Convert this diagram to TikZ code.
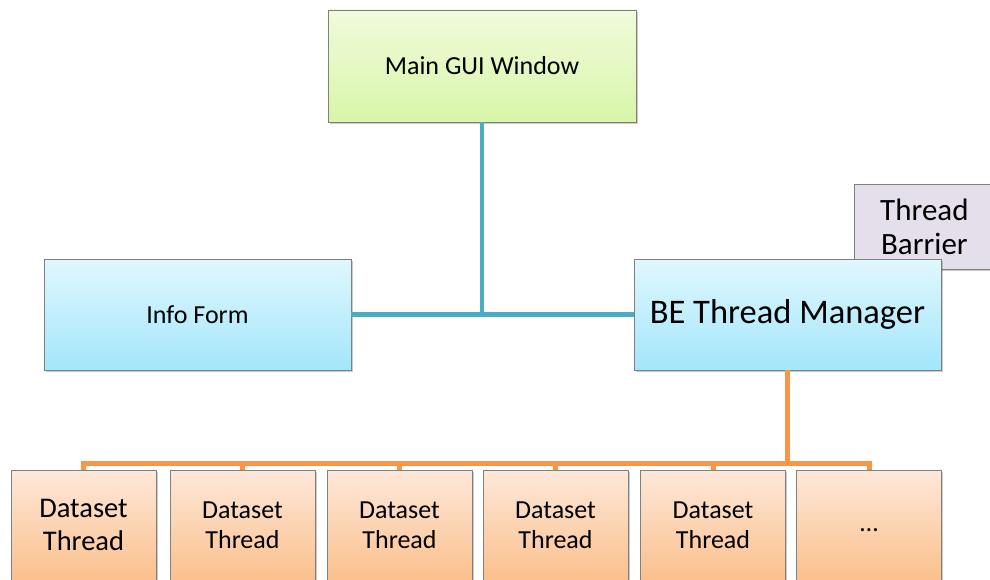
\documentclass[tikz,border=0pt]{standalone}
\usepackage{fontspec}
\setmainfont{Carlito}
\usetikzlibrary{shadows}
\definecolor{gTop}{HTML}{F0FBDC}
\definecolor{gBot}{HTML}{D8F5A8}
\definecolor{bTop}{HTML}{E0F7FD}
\definecolor{bBot}{HTML}{A3E6FB}
\definecolor{oTop}{HTML}{FDE8D9}
\definecolor{oBot}{HTML}{FBC08D}
\definecolor{lav}{HTML}{E5DFEC}
\definecolor{edge}{HTML}{808080}
\definecolor{blueline}{HTML}{4BACC6}
\definecolor{orangeline}{HTML}{F79646}
\tikzset{
  boxbase/.style={draw=edge, line width=0.8pt, rectangle, inner sep=0pt, align=center,
    drop shadow={shadow xshift=1.5pt, shadow yshift=-2pt, opacity=0.35, fill=black!60}},
  greenbox/.style={boxbase, top color=gTop, bottom color=gBot, minimum width=308pt, minimum height=112pt},
  bluebox/.style={boxbase, top color=bTop, bottom color=bBot, minimum width=307pt, minimum height=111pt},
  lavbox/.style={boxbase, fill=lav, minimum width=150pt, minimum height=85pt},
  thrbox/.style={boxbase, top color=oTop, bottom color=oBot, minimum width=145pt, minimum height=110pt,
    font=\fontsize{26}{30}\selectfont},
  bline/.style={draw=blueline, line width=4.5pt},
  oline/.style={draw=orangeline, line width=5pt}
}
\begin{document}
\begin{tikzpicture}[x=1pt,y=-1pt]
\useasboundingbox (0,0) rectangle (990,580);
\clip (0,0) rectangle (990,580);
% nodes
\node[greenbox, font=\fontsize{26}{30}\selectfont] (main) at (482,66) {Main GUI Window};
\node[lavbox, font=\fontsize{31}{34}\selectfont, anchor=north west, text width=140pt] (barrier) at (854,184) {\hspace*{-10pt}Thread\\\hspace*{-10pt}Barrier};
\node[bluebox, font=\fontsize{26}{30}\selectfont] (info) at (197.5,314.5) {Info Form};
\node[bluebox, font=\fontsize{34.5}{38}\selectfont] (be) at (787.5,314.5) {BE Thread Manager};
\node[thrbox, font=\fontsize{28.5}{33}\selectfont] (d1) at (83.5,525) {Dataset\\Thread};
\node[thrbox] (d2) at (242.5,525) {Dataset\\Thread};
\node[thrbox] (d3) at (399.5,525) {Dataset\\Thread};
\node[thrbox] (d4) at (555.5,525) {Dataset\\Thread};
\node[thrbox] (d5) at (713,525) {Dataset\\Thread};
\node[thrbox] (d6) at (869,525) {\raisebox{-6pt}[0pt][0pt]{\ldots}};
% connectors
\draw[bline] (info.east) -- (be.west);
\draw[bline] (main.south) -- (main.south |- info.east);
\coordinate (bus) at (787.5,463);
\draw[oline] (be.south) -- (bus);
\foreach \i in {1,...,6} {\draw[oline] (d\i.north) |- (bus);}
\end{tikzpicture}
\end{document}
